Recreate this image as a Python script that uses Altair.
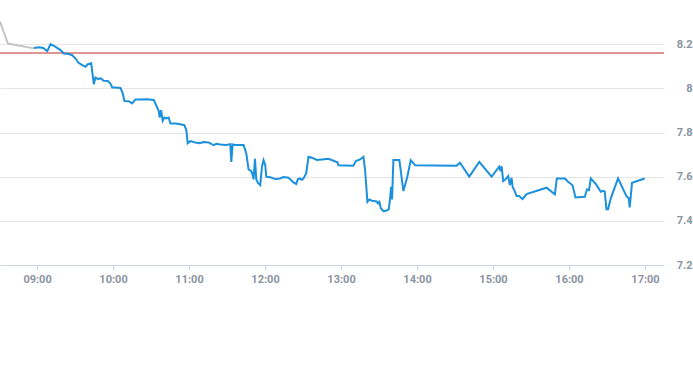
import altair as alt
import pandas as pd

DAY = "2024-01-02"

# grey pre-session segment
pre_times = ["08:30:45", "08:37:00", "08:57:30"]
pre_values = [8.302, 8.203, 8.181]

# blue session line
times = [
    "08:57:30", "09:01:27", "09:04:55", "09:08:04", "09:10:40", "09:14:37", "09:18:33", "09:21:09",
    "09:25:06", "09:27:47", "09:30:23", "09:32:31", "09:35:40", "09:38:15", "09:40:05", "09:42:45",
    "09:44:49", "09:46:09", "09:48:17", "09:50:05", "09:52:41", "09:55:51", "09:57:58", "09:59:19",
    "10:01:55", "10:05:51", "10:07:40", "10:09:01", "10:12:24", "10:15:05", "10:17:41", "10:21:38",
    "10:26:55", "10:32:07", "10:34:00", "10:36:03", "10:36:51", "10:37:57", "10:39:13", "10:40:33",
    "10:42:07", "10:43:56", "10:45:17", "10:49:13", "10:53:10", "10:56:19", "10:57:53", "10:58:55",
    "11:01:03", "11:04:59", "11:08:23", "11:11:32", "11:15:28", "11:19:25", "11:21:32", "11:24:42",
    "11:29:26", "11:32:35", "11:33:22", "11:34:24", "11:36:31", "11:43:04", "11:45:12", "11:47:01",
    "11:49:08", "11:50:29", "11:50:57", "11:52:04", "11:53:05", "11:54:25", "11:56:14", "11:57:34",
    "11:58:50", "12:00:11", "12:00:58", "12:04:07", "12:08:04", "12:12:00", "12:14:36", "12:18:33",
    "12:20:26", "12:22:29", "12:24:37", "12:25:58", "12:27:46", "12:29:07", "12:30:22", "12:32:30",
    "12:34:19", "12:36:59", "12:40:56", "12:44:53", "12:50:05", "12:54:01", "12:57:11", "12:57:57",
    "13:03:15", "13:09:47", "13:11:41", "13:15:04", "13:17:41", "13:19:01", "13:20:50", "13:22:25",
    "13:24:18", "13:28:14", "13:29:02", "13:30:17", "13:31:23", "13:33:26", "13:35:34", "13:37:42",
    "13:38:44", "13:39:31", "13:40:18", "13:41:20", "13:46:04", "13:49:13", "13:52:22", "13:55:03",
    "13:58:26", "14:31:19", "14:33:55", "14:41:15", "14:49:08", "14:58:55", "15:04:54", "15:06:00",
    "15:06:47", "15:08:03", "15:09:56", "15:11:59", "15:13:20", "15:14:40", "15:15:28", "15:17:16",
    "15:18:37", "15:20:40", "15:23:21", "15:26:30", "15:42:16", "15:48:49", "15:50:23", "15:56:42",
    "15:59:18", "16:02:46", "16:05:08", "16:12:28", "16:14:17", "16:15:51", "16:17:11", "16:21:08",
    "16:25:05", "16:26:53", "16:28:14", "16:29:34", "16:30:50", "16:32:58", "16:38:43", "16:45:20",
    "16:47:09", "16:47:56", "16:49:45", "16:59:46",
]
values = [
    8.183, 8.186, 8.183, 8.168, 8.200, 8.188, 8.173, 8.158,
    8.155, 8.150, 8.135, 8.117, 8.105, 8.098, 8.109, 8.113,
    8.019, 8.049, 8.042, 8.045, 8.034, 8.033, 8.022, 8.004,
    8.004, 8.002, 7.977, 7.943, 7.942, 7.932, 7.950, 7.950,
    7.951, 7.947, 7.924, 7.898, 7.868, 7.901, 7.853, 7.868,
    7.864, 7.868, 7.841, 7.841, 7.837, 7.833, 7.811, 7.751,
    7.761, 7.755, 7.751, 7.757, 7.755, 7.743, 7.749, 7.746,
    7.743, 7.747, 7.667, 7.746, 7.743, 7.743, 7.705, 7.633,
    7.625, 7.603, 7.588, 7.681, 7.588, 7.572, 7.562, 7.645,
    7.675, 7.652, 7.600, 7.597, 7.589, 7.592, 7.598, 7.595,
    7.585, 7.574, 7.567, 7.589, 7.592, 7.585, 7.592, 7.615,
    7.690, 7.686, 7.676, 7.678, 7.681, 7.672, 7.665, 7.652,
    7.651, 7.650, 7.671, 7.678, 7.690, 7.630, 7.486, 7.497,
    7.491, 7.488, 7.479, 7.486, 7.457, 7.444, 7.446, 7.452,
    7.499, 7.554, 7.497, 7.675, 7.675, 7.535, 7.600, 7.675,
    7.652, 7.650, 7.663, 7.600, 7.667, 7.600, 7.645, 7.625,
    7.648, 7.580, 7.588, 7.603, 7.562, 7.595, 7.554, 7.532,
    7.512, 7.512, 7.499, 7.521, 7.550, 7.520, 7.592, 7.592,
    7.577, 7.561, 7.506, 7.509, 7.543, 7.539, 7.592, 7.567,
    7.532, 7.536, 7.532, 7.452, 7.452, 7.502, 7.592, 7.512,
    7.502, 7.461, 7.572, 7.592,
]

prev_close = [8.16]
y_ticks = [7.2, 7.4, 7.6, 7.8, 8.0, 8.2]
x_tick_hours = [9, 10, 11, 12, 13, 14, 15, 16, 17]

pre_df = pd.DataFrame({"t": [f"{DAY}T{t}" for t in pre_times], "v": pre_values})
df = pd.DataFrame({"t": [f"{DAY}T{t}" for t in times], "v": values})
ref_df = pd.DataFrame({"v": prev_close})


def dt(h, m=0, s=0):
    return alt.DateTime(year=2024, month=1, date=2, hours=h, minutes=m, seconds=s)


LABEL_COLOR = "#8a949f"
FONT = "Roboto"

x_enc = alt.X(
    "t:T",
    title=None,
    scale=alt.Scale(domain=[dt(8, 30, 45), dt(17, 15, 0)]),
    axis=alt.Axis(
        format="%H:%M",
        values=[dt(h) for h in x_tick_hours],
        grid=False,
        domainColor="#ccd6eb",
        tickColor="#ccd6eb",
        tickSize=5,
        labelPadding=3,
        labelFontSize=11,
        labelColor=LABEL_COLOR,
        labelFont=FONT,
        labelFontWeight="bold",
    ),
)
y_enc = alt.Y(
    "v:Q",
    title=None,
    scale=alt.Scale(domain=[7.2, 8.4], nice=False, zero=False),
    axis=alt.Axis(
        orient="right",
        values=y_ticks,
        format="~g",
        domain=False,
        ticks=False,
        grid=True,
        gridColor="#e6e6e6",
        labelAlign="right",
        labelBaseline="middle",
        labelPadding=28,
        labelFontSize=11,
        labelColor=LABEL_COLOR,
        labelFont=FONT,
        labelFontWeight="bold",
    ),
)

ref = alt.Chart(ref_df).mark_rule(color="#c0282d", strokeWidth=1).encode(
    y=alt.Y("v:Q", scale=alt.Scale(domain=[7.2, 8.4], nice=False, zero=False))
)
pre = alt.Chart(pre_df).mark_line(color="#c4c4c4", strokeWidth=2, clip=True).encode(x=x_enc, y=y_enc)
main = alt.Chart(df).mark_line(color="#1b90dd", strokeWidth=2, clip=True).encode(x=x_enc, y=y_enc)

chart = (
    alt.layer(pre, ref, main)
    .properties(
        width=664,
        height=265,
        autosize=alt.AutoSizeParams(type="none"),
        padding={"left": 0, "top": 0, "right": 29, "bottom": 100},
        background="white",
    )
    .configure_view(stroke=None)
)

chart.save("out.html", embed_options={"renderer": "svg", "actions": False})
